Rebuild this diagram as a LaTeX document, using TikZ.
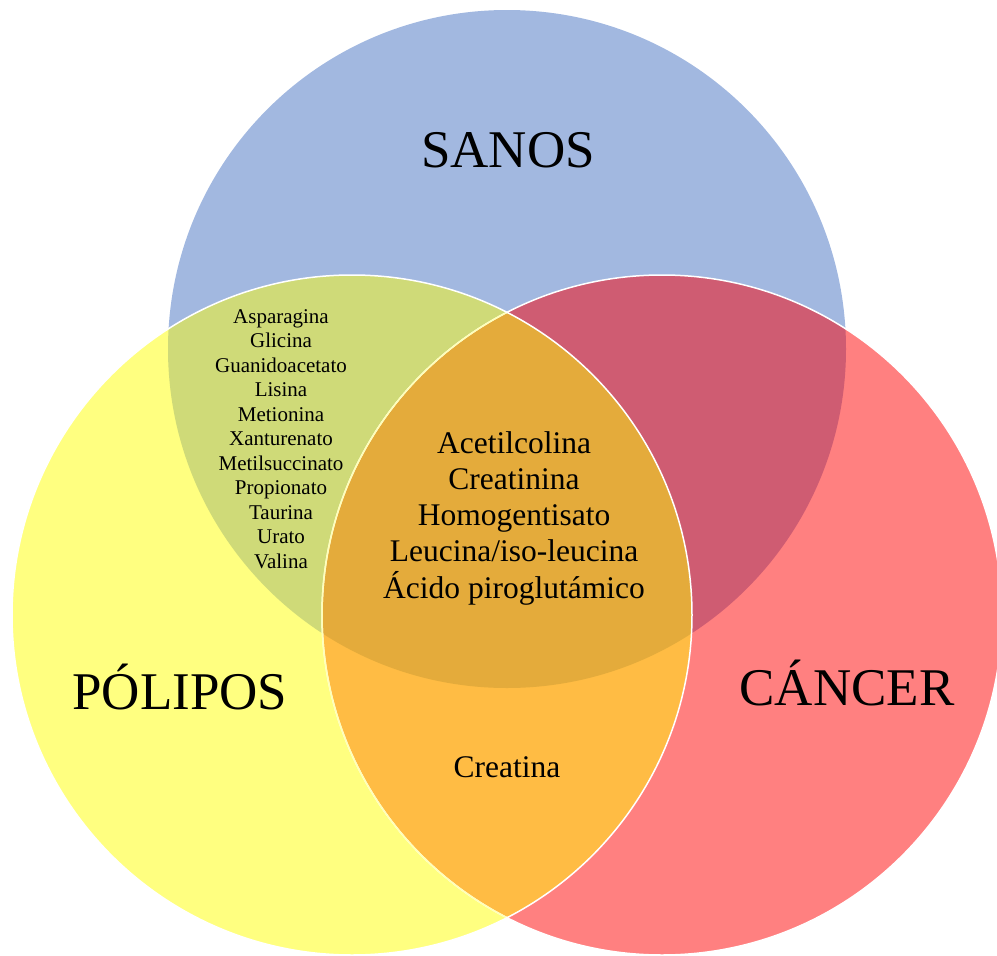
\documentclass[tikz,border=0pt]{standalone}
\usepackage{fontspec}
\setmainfont{Liberation Serif}
\definecolor{cblue}{HTML}{A2B8E0}
\definecolor{cyellow}{HTML}{FFFF80}
\definecolor{cred}{HTML}{FF8080}
\definecolor{cgreen}{HTML}{CFDA78}
\definecolor{cpurple}{HTML}{CF5C72}
\definecolor{corange}{HTML}{FFBC44}
\definecolor{ccenter}{HTML}{E4AB3B}
\definecolor{cpale}{HTML}{FFFFB8}
\tikzset{
  bigtext/.style={anchor=base, inner sep=0pt, font=\fontsize{53}{60}\selectfont},
  smalltext/.style={anchor=base, inner sep=0pt, font=\fontsize{21}{24}\selectfont},
  midtext/.style={anchor=base, inner sep=0pt, font=\fontsize{31.5}{36}\selectfont},
  rim/.style={line width=1.5pt}
}
\begin{document}
\begin{tikzpicture}[x=1pt,y=-1pt]
\useasboundingbox (0,0) rectangle (997,956);
\clip (0,0) rectangle (997,956);
\coordinate (T) at (507,349);
\coordinate (L) at (352,615);
\coordinate (R) at (662,615);
% base fills
\fill[cblue] (T) circle[radius=339pt];
\fill[cred] (R) circle[radius=340pt];
\fill[cyellow] (L) circle[radius=340pt];
% pairwise overlaps with top
\begin{scope}
  \clip (T) circle[radius=339pt];
  \fill[cgreen] (L) circle[radius=340pt];
  \fill[cpurple] (R) circle[radius=340pt];
\end{scope}
% left-right overlap and center
\begin{scope}
  \clip (L) circle[radius=340pt];
  \fill[corange] (R) circle[radius=340pt];
  \clip (T) circle[radius=339pt];
  \fill[ccenter] (R) circle[radius=340pt];
\end{scope}
% outlines
\draw[white, rim] (R) circle[radius=340pt];
\begin{scope}
  \clip (L) circle[radius=340pt];
  \draw[cpale, rim] (R) circle[radius=340pt];
\end{scope}
\draw[white, rim] (L) circle[radius=340pt];
% labels
\node[bigtext] (sanos) at (508,167) {SANOS};
\node[bigtext] (polipos) at (180,709) {PÓLIPOS};
\node[bigtext] (cancer) at (847,705) {CÁNCER};
\foreach \t [count=\i from 0] in {Asparagina,Glicina,Guanidoacetato,Lisina,Metionina,Xanturenato,Metilsuccinato,Propionato,Taurina,Urato,Valina}
  \node[smalltext] (s\i) at (281,{323+24.5*\i}) {\t};
\foreach \t [count=\i from 0] in {Acetilcolina,Creatinina,Homogentisato,Leucina/iso-leucina,Ácido piroglutámico}
  \node[midtext] (m\i) at (514,{453+36.25*\i}) {\t};
\node[midtext] (creatina) at (507,777) {Creatina};
\end{tikzpicture}
\end{document}
